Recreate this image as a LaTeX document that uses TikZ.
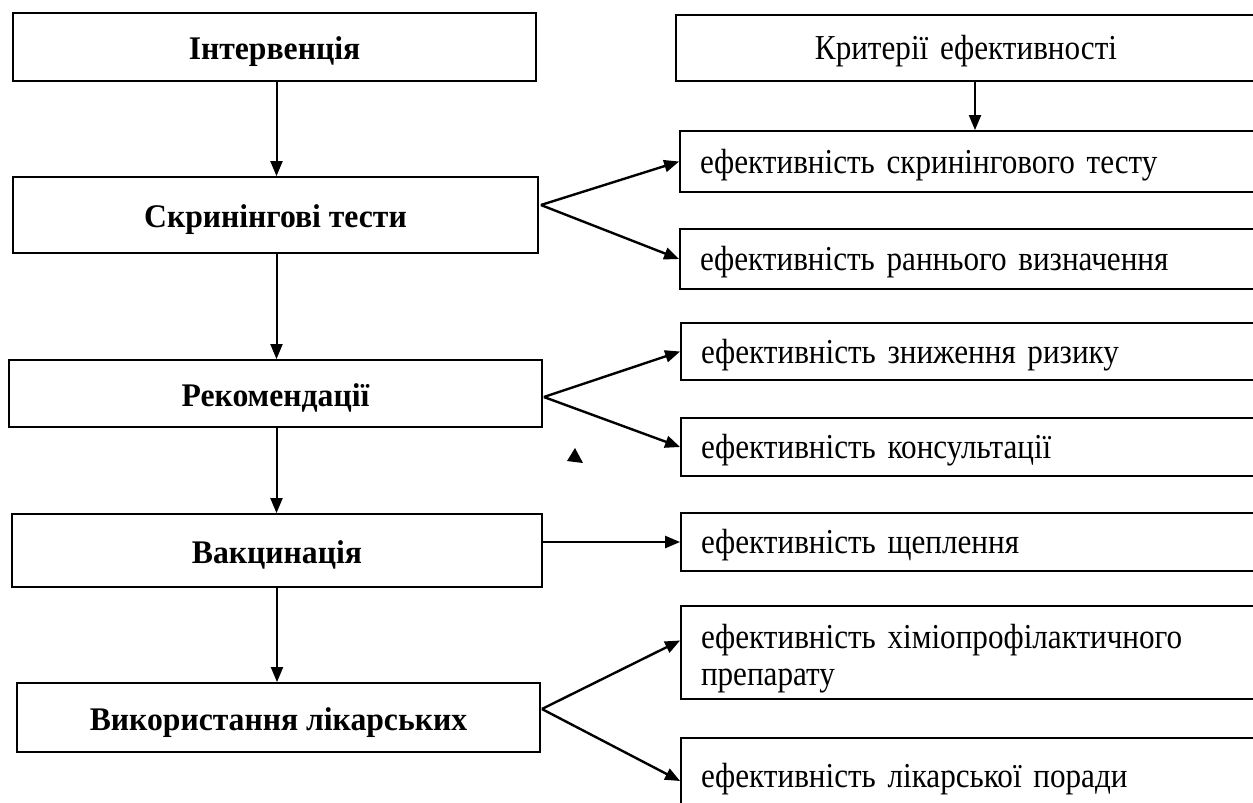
\documentclass[tikz,border=0pt]{standalone}
\usepackage{fontspec}
\setmainfont{Liberation Serif}
\newfontfamily\rfont{Liberation Serif}[FakeStretch=0.89,WordSpace=1.5]
\newfontfamily\lfont{Liberation Serif Bold}[FakeStretch=0.96]
\usetikzlibrary{arrows.meta,calc}
\tikzset{
  lbox/.style={draw, line width=1.8pt, font=\fontsize{33}{39}\lfont, inner sep=0pt, text height=25pt, text depth=0pt},
  rbox/.style={draw, line width=1.8pt, font=\fontsize{35}{37}\rfont, inner xsep=20pt, inner ysep=0pt, align=flush left, text width=550pt, minimum width=590pt, text height=23pt, text depth=0pt},
  cbox/.style={draw, line width=1.8pt, font=\fontsize{35}{37}\rfont, inner sep=0pt, text height=22pt, text depth=0pt},
  vline/.style={line width=2pt, -{Triangle[length=15pt,width=12pt]}},
  fan/.style={line width=2.4pt, -{Triangle[length=15pt,width=12pt]}}
}
\begin{document}
\begin{tikzpicture}[x=1pt,y=-1pt]
\useasboundingbox (0,0) rectangle (1253,803);
\clip (0,0) rectangle (1253,803);
% left column
\node[lbox, minimum width=523pt, minimum height=68pt] (L1) at (274.5,47) {Інтервенція};
\node[lbox, minimum width=525pt, minimum height=76pt] (L2) at (275.5,215) {Скринінгові тести};
\node[lbox, minimum width=533pt, minimum height=67pt] (L3) at (275.5,393.5) {Рекомендації};
\node[lbox, minimum width=530pt, minimum height=73pt] (L4) at (277,550.5) {Вакцинація};
\node[lbox, minimum width=523pt, minimum height=69pt] (L5) at (278.5,717.5) {Використання лікарських};
% right column
\node[cbox, minimum width=598pt, minimum height=66pt] (C) at (975,48) {\hspace*{-18pt}Критерії ефективності};
\node[rbox, minimum height=61pt] (R1) at (975,161.5) {ефективність скринінгового тесту};
\node[rbox, minimum height=60pt] (R2) at (975,259) {ефективність раннього визначення};
\node[rbox, minimum height=57pt] (R3) at (976,351.5) {ефективність зниження ризику};
\node[rbox, minimum height=58pt] (R4) at (976,447) {ефективність консультації};
\node[rbox, minimum height=58pt] (R5) at (976,542) {ефективність щеплення};
\node[rbox, minimum height=93pt, text height=27pt, text depth=35pt] (R6) at (976,652.5) {ефективність хіміопрофілактичного\\препарату};
\node[rbox, minimum height=76pt] (R7) at (976,776) {ефективність лікарської поради};
% vertical arrows
\draw[vline] ([xshift=2pt]L1.south) -- ([xshift=2pt]L1.south |- L2.north);
\draw[vline] ([xshift=1pt]L2.south) -- ([xshift=1pt]L2.south |- L3.north);
\draw[vline] ([xshift=1pt]L3.south) -- ([xshift=1pt]L3.south |- L4.north);
\draw[vline] (L4.south) -- (L4.south |- L5.north);
\draw[vline] (C.south) -- (R1.north);
% fans
\coordinate (f2) at ($(L2.east)+(2,-10)$);
\coordinate (f3) at ($(L3.east)+(1,3.5)$);
\coordinate (f5) at ($(L5.east)+(1,-8.5)$);
\draw[fan] (f2) -- (R1.west);
\draw[fan] (f2) -- (R2.west);
\draw[fan] (f3) -- (R3.west);
\draw[fan] (f3) -- (R4.west);
\draw[fan] (L4.east |- R5.west) -- (R5.west);
\draw[fan] (f5) -- ($(R6.west)+(0,-12)$);
\draw[fan] (f5) -- ($(R7.west)+(0,5)$);
% stray arrowhead
\fill (575,448) -- (567,461) -- (583,463) -- cycle;
\end{tikzpicture}
\end{document}
